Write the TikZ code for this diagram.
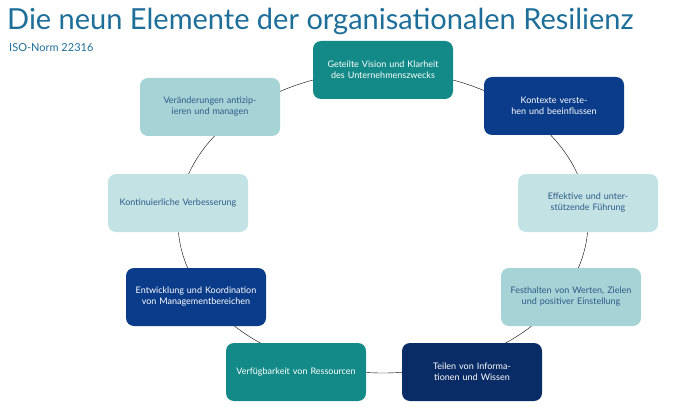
\documentclass[tikz,border=0pt]{standalone}
\usepackage{fontspec}
\setmainfont{Lato}
\definecolor{teal1}{HTML}{138A87}
\definecolor{blue1}{HTML}{0A3C8A}
\definecolor{navy1}{HTML}{0A2C66}
\definecolor{light1}{HTML}{C3E2E4}
\definecolor{mid1}{HTML}{A6D3D5}
\definecolor{titlec}{HTML}{1E6E9A}
\definecolor{textc}{HTML}{2F5A8A}
\tikzset{
  elem/.style={rounded corners=8pt,minimum width=140pt,minimum height=58pt,
    text width=126pt,align=center,font=\fontsize{9}{11}\selectfont},
  dark/.style={elem,fill=#1,text=white},
  pale/.style={elem,fill=#1,text=textc}
}
\begin{document}
\begin{tikzpicture}[x=1pt,y=-1pt]
\useasboundingbox (0,0) rectangle (700,414);
% title
\node[anchor=base west,text=titlec,font=\fontsize{29}{30}\selectfont,inner sep=0] (title) at (7,30) {Die neun Elemente der organisationalen Resilienz};
\node[anchor=base west,text=titlec,font=\fontsize{11}{12}\selectfont,inner sep=0] (sub) at (9,52) {ISO-Norm 22316};
% ring
\draw[thin] (383,222) ellipse [x radius=205,y radius=151];
% elements
\node[dark=teal1] (vision) at (383,70) {Geteilte Vision und Klarheit des Unternehmenszwecks};
\node[dark=blue1] (kontext) at (554,106) {Kontexte verstehen und beeinflussen};
\node[pale=light1] (fuehrung) at (588,203) {Effektive und unterstützende Führung};
\node[pale=mid1] (werte) at (571,297) {Festhalten von Werten, Zielen und positiver Einstellung};
\node[dark=navy1] (info) at (472,372) {Teilen von Informationen und Wissen};
\node[dark=teal1] (ressourcen) at (296,372) {Verfügbarkeit von Ressourcen};
\node[dark=blue1] (management) at (196,297) {Entwicklung und Koordination von Managementbereichen};
\node[pale=light1] (verbesserung) at (178,203) {Kontinuierliche Verbesserung};
\node[pale=mid1] (wandel) at (210,107) {Veränderungen antizipieren und managen};
\end{tikzpicture}
\end{document}
